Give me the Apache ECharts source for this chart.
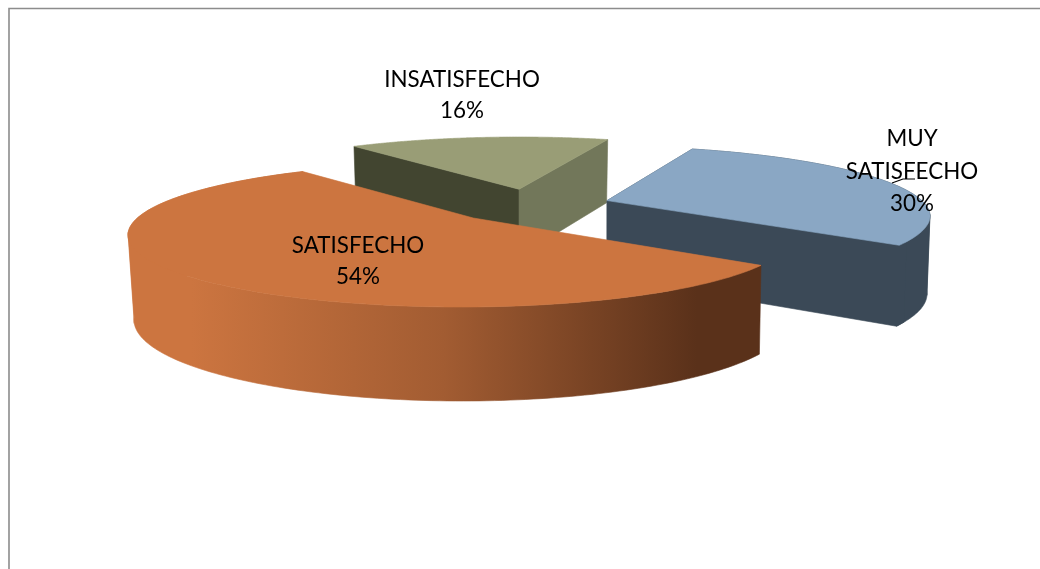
<!DOCTYPE html>
<html><head><meta charset="utf-8">
<script src="https://cdn.jsdelivr.net/npm/echarts@6/dist/echarts.min.js"></script>
<style>html,body{margin:0;padding:0;background:#fff}#c{width:1040px;height:569px}</style>
</head><body><div id="c"></div>
<script>
const categories = ['MUY SATISFECHO', 'SATISFECHO', 'INSATISFECHO'];
const values = [30, 54, 16];
const firstAngle = 19;
const labelLines = [['MUY', 'SATISFECHO'], ['SATISFECHO'], ['INSATISFECHO']];

const geometry = [
  {z:2, rot:-0.2, top:{c:[595,216],a:335,b:70}, bot:{c:[595,294],a:332,b:77}, p:[0.036,-0.22], label:[912,139], lh:32.5},
  {z:3, rot:0.9,  top:{c:[460,235],a:332,b:72}, bot:{c:[462,320],a:328,b:81}, p:[0.04,-0.236], label:[358,246], lh:31},
  {z:1, rot:0.8,  top:{c:[519,204],a:324,b:67}, bot:{c:[519,272],a:320,b:72}, p:[0,-0.22], label:[462,80], lh:31}
];
const palette = [
  {top:'#8AA7C4', outer:'#3B4957', start:'#3B4957', end:'#3B4957'},
  {top:'#CC7540', outer:'grad', start:null, end:null},
  {top:'#999D76', outer:null, start:'#424530', end:'#72775A'}
];
const total = values.reduce((a,b)=>a+b,0);
const ranges = [];
values.reduce((acc,v,i)=>{ const e=acc+v/total*360; ranges[i]=[acc,e]; return e; }, firstAngle);

function boost(p,w){
  const g=1/Math.sqrt(1-p[0]*p[0]-p[1]*p[1]), d=p[0]*w[0]+p[1]*w[1], k=g/(1+g)*d;
  return [(p[0]*(1+k)+w[0]/g)/(1+d),(p[1]*(1+k)+w[1]/g)/(1+d)];
}
function pt(geo,level,deg){
  const e=geo[level];
  const w = deg===null ? [0,0] : [Math.sin(deg*Math.PI/180),-Math.cos(deg*Math.PI/180)];
  const q=boost(geo.p,w);
  return [e.c[0]+e.a*q[0], e.c[1]+e.b*q[1]];
}
function arc(geo,level,s,e){
  const out=[], n=180;
  for(let i=0;i<=n;i++) out.push(pt(geo,level,s+(e-s)*i/n));
  return out;
}
function poly(points,fill,z2){ return {type:'polygon',z2,shape:{points},style:{fill,stroke:fill,lineWidth:0.6}}; }

// The side wall is cut where its outline turns back horizontally, so each piece is a simple ribbon.
function wallPieces(t,b,fill,z2){
  const xs=t.map(q=>q[0]);
  const cuts=[xs.indexOf(Math.min(...xs)),xs.indexOf(Math.max(...xs))].filter(c=>c>0&&c<t.length-1).sort((m,n)=>m-n);
  const edges=[0,...cuts,t.length-1], out=[];
  for(let k=0;k<edges.length-1;k++){
    const a=Math.max(0,edges[k]-2), c=Math.min(t.length-1,edges[k+1]+2);
    out.push(poly(t.slice(a,c+1).concat(b.slice(a,c+1).reverse()),fill,z2));
  }
  return out;
}

function renderItem(params,api){
  const i=params.dataIndex, g=geometry[i], col=palette[i], r=ranges[i], s=r[0]+g.rot, e=r[1]+g.rot, ch=[];
  const z=g.z*10;
  if(col.outer){
    let fill=col.outer;
    if(fill==='grad') fill=new echarts.graphic.LinearGradient(128,0,760,0,[
      {offset:0,color:'#CC7540'},{offset:0.1,color:'#CC7540'},{offset:0.5,color:'#A25C32'},{offset:0.9,color:'#5A311A'},{offset:1,color:'#5A311A'}],true);
    ch.push(...wallPieces(arc(g,'top',s,e),arc(g,'bot',s,e),fill,z));
  }
  if(col.start) ch.push(poly([pt(g,'top',null),pt(g,'top',s),pt(g,'bot',s),pt(g,'bot',null)],col.start,z+1));
  if(col.end){
    // When an outer wall joins this face, the face runs a little way over it to hide the join.
    const inner=col.outer ? [pt(g,'top',e-3),pt(g,'bot',e-3)] : [];
    ch.push(poly([pt(g,'top',null),pt(g,'top',e),...inner,pt(g,'bot',e),pt(g,'bot',null)],col.end,z+1));
  }
  ch.push(poly([pt(g,'top',null)].concat(arc(g,'top',s,e)),col.top,z+2));
  const lines=labelLines[i].concat([Math.round(api.value(0)/total*100)+'%']);
  lines.forEach((t,k)=>ch.push({type:'text',z2:100,style:{text:t,x:g.label[0],y:g.label[1]+k*g.lh,
    font:'22.4px Lato',fill:'#000',align:'center',verticalAlign:'middle'}}));
  return {type:'group',children:ch};
}

const chart=echarts.init(document.getElementById('c'),null,{renderer:'canvas'});
chart.setOption({
  animation:false,
  backgroundColor:'#fff',
  graphic:[
    {type:'polyline',shape:{points:[[9,569],[9,8.5],[1040,8.5]]},style:{stroke:'#8C8C8C',lineWidth:1.6,fill:null}},
    {type:'polyline',z:50,shape:{points:[[892,183],[903,179],[915,179]]},style:{stroke:'#000',lineWidth:1.2,fill:null}}
  ],
  series:[{type:'custom',coordinateSystem:'none',renderItem,data:values.map((v,i)=>({name:categories[i],value:[v]})),silent:true}]
});
</script></body></html>
